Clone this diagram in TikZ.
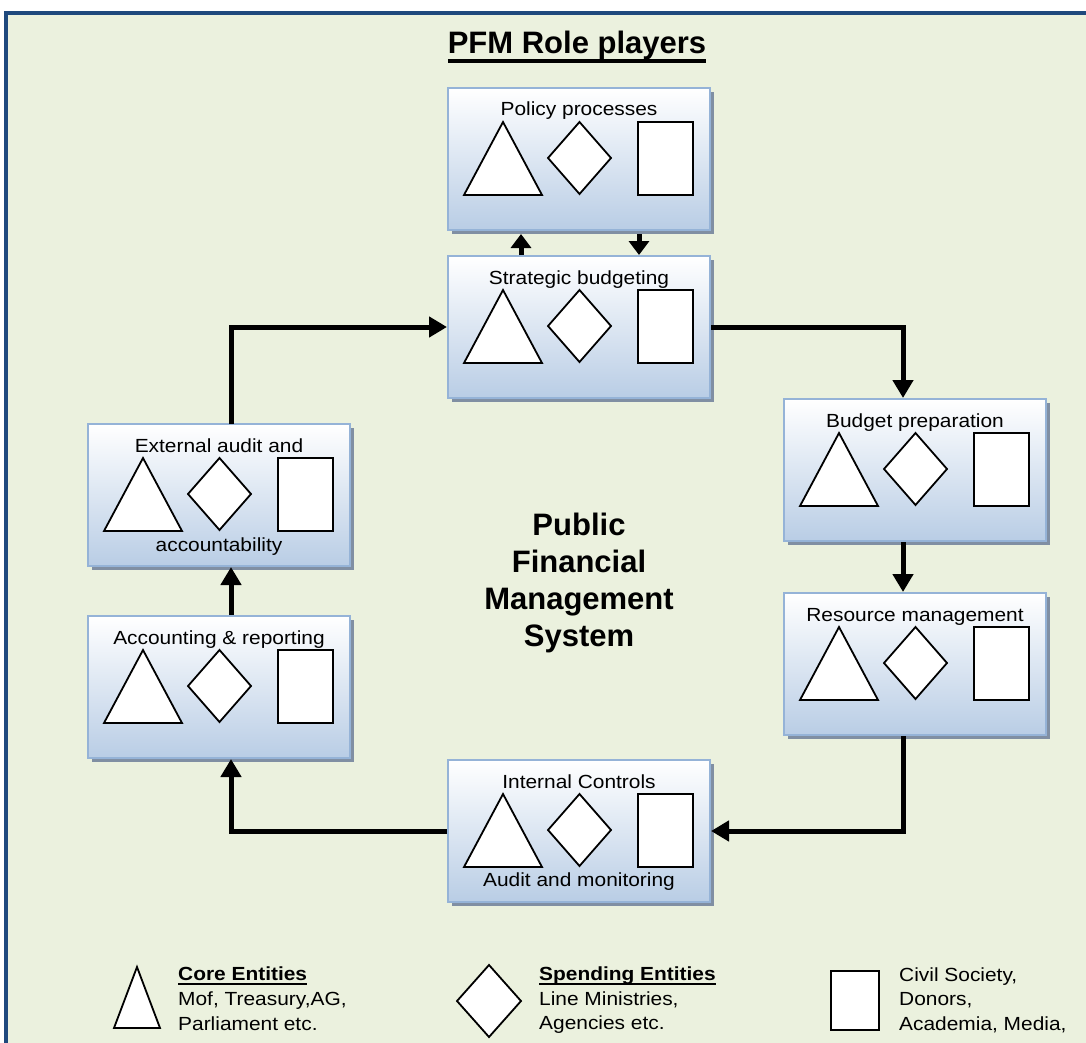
\documentclass[tikz,border=0pt]{standalone}
\usepackage{fontspec}
\setmainfont{Liberation Sans}
\newfontfamily\widefont{Liberation Sans}[FakeStretch=1.1]
\usetikzlibrary{arrows.meta,calc,shadows}
\definecolor{bgc}{RGB}{235,241,222}
\definecolor{framec}{RGB}{31,73,125}
\definecolor{boxbot}{RGB}{185,205,229}
\definecolor{boxline}{RGB}{149,179,215}
\definecolor{shadowc}{RGB}{128,143,163}
\newcommand\ulbox[3]{\setbox0=\hbox{#1}\rlap{\rule[#2]{\wd0}{#3}}\box0}
\tikzset{
  x=1pt, y=-1pt,
  rolebox/.style={draw=boxline, line width=2pt, minimum width=262pt, minimum height=142pt,
    inner sep=0pt, top color=white, bottom color=boxbot,
    drop shadow={shadow xshift=4pt, shadow yshift=-4pt, fill=shadowc, opacity=1}},
  shp/.style={draw=black, fill=white, line width=1.8pt, line join=miter},
  boxtext/.style={anchor=base, inner sep=0pt, font=\widefont\fontsize{19}{23}\selectfont},
  legtext/.style={anchor=base west, inner sep=0pt, font=\widefont\fontsize{19}{25}\selectfont},
  conn/.style={line width=5pt, -{Triangle[length=18pt,width=20pt]}},
  shortconn/.style={line width=5pt, -{Triangle[length=14pt,width=20pt]}},
}
\newcommand\RoleShapes[1]{%
  \draw[shp] ($(#1.north west)+(17,108)$) -- ($(#1.north west)+(56,35)$) -- ($(#1.north west)+(95,108)$) -- cycle;
  \draw[shp] ($(#1.north west)+(101,71)$) -- ($(#1.north west)+(132.5,35)$) -- ($(#1.north west)+(164,71)$) -- ($(#1.north west)+(132.5,107)$) -- cycle;
  \draw[shp] ($(#1.north west)+(191,35)$) rectangle ($(#1.north west)+(246,108)$);
}
\begin{document}
\begin{tikzpicture}
\useasboundingbox (0,0) rectangle (1086,1043);
\clip (0,0) rectangle (1086,1043);
\fill[white] (0,0) rectangle (1086,1043);
\draw[framec, line width=4pt, fill=bgc] (6,13.3) rectangle (1120,1080);

% title
\node[anchor=base, inner sep=0pt, font=\bfseries\fontsize{31}{36}\selectfont] (title) at (577,53.3)
  {\ulbox{PFM Role players}{-9.4pt}{3.4pt}};

% boxes
\node[rolebox] (pp) at (579,159) {};
\node[rolebox] (sb) at (579,327) {};
\node[rolebox] (bp) at (915,470) {};
\node[rolebox] (rm) at (915,664) {};
\node[rolebox] (ic) at (579,831) {};
\node[rolebox] (ar) at (219,687) {};
\node[rolebox] (ea) at (219,495) {};

\foreach \b in {pp,sb,bp,rm,ic,ar,ea} {\RoleShapes{\b}}

\node[boxtext] (pp-t) at ($(pp.north)+(0,29)$) {Policy processes};
\node[boxtext] (sb-t) at ($(sb.north)+(0,29)$) {Strategic budgeting};
\node[boxtext] (bp-t) at ($(bp.north)+(0,29)$) {Budget preparation};
\node[boxtext] (rm-t) at ($(rm.north)+(0,29)$) {Resource management};
\node[boxtext] (ic-t) at ($(ic.north)+(0,29)$) {Internal Controls};
\node[boxtext] (ic-b) at ($(ic.north)+(0,127)$) {Audit and monitoring};
\node[boxtext] (ar-t) at ($(ar.north)+(0,29)$) {Accounting \& reporting};
\node[boxtext] (ea-t) at ($(ea.north)+(0,29)$) {External audit and};
\node[boxtext] (ea-b) at ($(ea.north)+(0,128.5)$) {accountability};

% centre text
\node[align=center, inner sep=0pt, font=\bfseries\fontsize{31}{37}\selectfont] (centre) at (579,583)
  {Public\\Financial\\Management\\System};

% connectors
\coordinate (xr) at (903,0);
\coordinate (xl) at (231,0);
\coordinate (xu) at (521,0);
\coordinate (xd) at (639,0);
\draw[conn] (sb.east) -| (xr |- bp.north);
\draw[conn] (xr |- bp.south) -- (xr |- rm.north);
\draw[conn] (xr |- rm.south) |- (ic.east);
\draw[conn] (ic.west) -| (xl |- ar.south);
\draw[conn] (xl |- ar.north) -- (xl |- ea.south);
\draw[conn] ($(xl |- ea.north)+(0,1)$) |- (sb.west);
\draw[shortconn] (xu |- sb.north) -- ($(xu |- pp.south)+(0,3)$);
\draw[shortconn] ($(xd |- pp.south)+(0,3)$) -- (xd |- sb.north);

% legend
\draw[shp] (114,1028) -- (137,967) -- (160,1028) -- cycle;
\draw[shp] (457,1001) -- (489,965) -- (521,1001) -- (489,1037) -- cycle;
\draw[shp] (831,971) rectangle (879,1030);
\node[legtext, font=\widefont\bfseries\fontsize{19}{25}\selectfont] (l1a) at (178,980.3) {\ulbox{Core Entities}{-4.8pt}{2.2pt}};
\node[legtext] (l1b) at (178,1005) {Mof, Treasury,AG,};
\node[legtext] (l1c) at (178,1030) {Parliament etc.};
\node[legtext, font=\widefont\bfseries\fontsize{19}{25}\selectfont] (l2a) at (539,980.3) {\ulbox{Spending Entities}{-4.8pt}{2.2pt}};
\node[legtext] (l2b) at (539,1005) {Line Ministries,};
\node[legtext] (l2c) at (539,1029.5) {Agencies etc.};
\node[legtext] (l3a) at (899,981) {Civil Society,};
\node[legtext] (l3b) at (899,1005) {Donors,};
\node[legtext] (l3c) at (899,1030) {Academia, Media,};
\end{tikzpicture}
\end{document}
